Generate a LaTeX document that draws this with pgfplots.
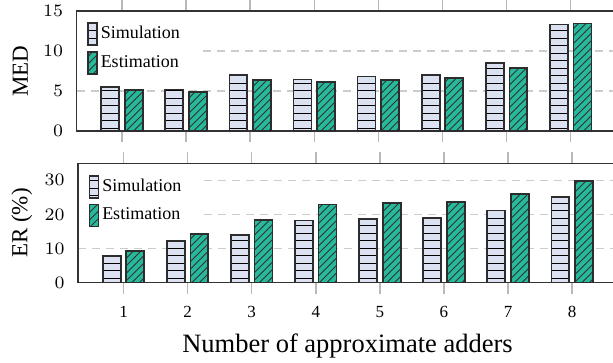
\documentclass[border=0pt]{standalone}
\usepackage{pgfplots}
\pgfplotsset{compat=1.18}
\usetikzlibrary{patterns}
\usepackage{fontspec}
\setmainfont{Liberation Serif}
\definecolor{simfill}{RGB}{220,225,242}
\definecolor{estfill}{RGB}{38,185,155}
\definecolor{edge}{RGB}{45,45,45}
\pgfplotsset{
  mystyle/.style={
    scale only axis, width=215.6pt,
    xmin=0.29, xmax=8.7,
    ybar, bar width=0.28,
    xtick={1,2,3,4,5,6,7,8}, xtick pos=both, xticklabel pos=lower,
    tick align=outside, major tick length=4.4pt,
    xtick style={gray!55, line width=0.6pt},
    ytick style={draw=none},
    ymajorgrids, major grid style={gray!40, dash pattern=on 3.2pt off 2.4pt, line width=0.5pt},
    axis line style={black!80, line width=0.5pt},
    yticklabel style={font=\fontsize{7.3}{8}\selectfont, xshift=2.6pt},
    ylabel style={font=\fontsize{9.2}{10}\selectfont, at={(axis description cs:-0.104,0.5)}, anchor=center},
    legend style={draw=none, fill=white, at={(axis description cs:0,1)}, anchor=north west,
      yshift=-3.4pt,
      font=\fontsize{7.2}{8}\selectfont, row sep=2pt, inner xsep=4pt, inner ysep=1pt,
      nodes={inner sep=1.2pt}},
    legend cell align=left,
    legend image code/.code={\draw[#1] (0pt,-4.4pt) rectangle (3.6pt,4.4pt);},
  },
  sim/.style={fill=simfill, draw=edge, line width=0.7pt, postaction={pattern=horizontal lines, pattern color=black}, bar shift=-0.184},
  est/.style={fill=estfill, draw=edge, line width=0.7pt, postaction={pattern=north east lines, pattern color=black!80}, bar shift=0.184},
}
\begin{document}
\begin{tikzpicture}
\useasboundingbox (0,0) rectangle (245.2pt,144.8pt);
\begin{axis}[mystyle, at={(30.6pt,92.4pt)}, anchor=south west, height=48pt,
  ymin=0, ymax=15, ytick={0,5,10,15}, xticklabels={}, ylabel={MED}]
\addplot[sim] coordinates {(1,5.54) (2,5.2) (3,6.96) (4,6.45) (5,6.8) (6,7.04) (7,8.46) (8,13.3)};
\addplot[est] coordinates {(1,5.08) (2,4.83) (3,6.33) (4,6.08) (5,6.33) (6,6.67) (7,7.92) (8,13.45)};
\legend{Simulation\hspace*{2.5pt}, Estimation}
\end{axis}
\begin{axis}[mystyle, at={(31.2pt,31.7pt)}, anchor=south west, height=47.8pt,
  ymin=0, ymax=35, ytick={0,10,20,30},
  xticklabels={1,2,3,4,5,6,7,8},
  xticklabel style={font=\fontsize{6.8}{8}\selectfont, yshift=-1.6pt},
  xlabel={Number of approximate adders},
  xlabel style={font=\fontsize{10.6}{12}\selectfont, at={(axis description cs:0.5,-0.525)}, anchor=center},
  ylabel={ER (\%)}]
\addplot[sim] coordinates {(1,7.85) (2,12.2) (3,13.9) (4,18.2) (5,18.7) (6,18.9) (7,21.2) (8,25.2)};
\addplot[est] coordinates {(1,9.4) (2,14.3) (3,18.4) (4,22.9) (5,23.4) (6,23.6) (7,25.9) (8,29.9)};
\legend{Simulation\hspace*{2.5pt}, Estimation}
\end{axis}
\end{tikzpicture}
\end{document}
